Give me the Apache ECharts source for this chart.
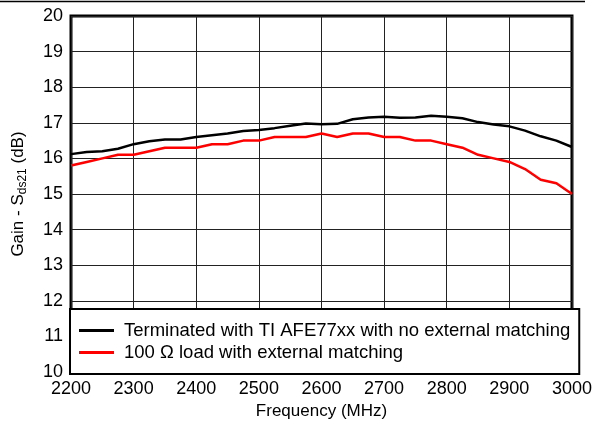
<!DOCTYPE html>
<html>
<head>
<meta charset="utf-8">
<script src="https://cdn.jsdelivr.net/npm/echarts@6/dist/echarts.min.js"></script>
<style>
html,body{margin:0;padding:0;background:#fff;}
#chart{width:595px;height:426px;}
</style>
</head>
<body>
<div id="chart"></div>
<script>
const frequencies = [2200,2225,2250,2275,2300,2325,2350,2375,2400,2425,2450,2475,2500,2525,2550,2575,2600,2625,2650,2675,2700,2725,2750,2775,2800,2825,2850,2875,2900,2925,2950,2975,3000];
const gainTerminated = [16.12,16.18,16.2,16.27,16.4,16.48,16.53,16.53,16.6,16.65,16.7,16.77,16.8,16.85,16.92,16.98,16.96,16.97,17.1,17.15,17.17,17.14,17.15,17.2,17.17,17.13,17.02,16.95,16.9,16.78,16.62,16.5,16.32];
const gain100Ohm = [15.8,15.9,16.0,16.1,16.1,16.2,16.3,16.3,16.3,16.4,16.4,16.5,16.5,16.6,16.6,16.6,16.7,16.6,16.7,16.7,16.6,16.6,16.5,16.5,16.4,16.3,16.1,16.0,15.9,15.7,15.4,15.3,15.0];
const seriesNames = ['Terminated with TI AFE77xx with no external matching', '100 \u03A9 load with external matching'];
const xAxisTitle = 'Frequency (MHz)';

const FONT = '"Liberation Sans", Arial, Helvetica, sans-serif';
const chart = echarts.init(document.getElementById('chart'), null, {renderer: 'canvas'});
const pairs = (ys) => frequencies.map((f, i) => [f, ys[i]]);

chart.setOption({
  animation: false,
  backgroundColor: '#fff',
  textStyle: {fontFamily: FONT},
  grid: {left: 71, right: 22, top: 16, bottom: 54, show: true, borderColor: '#000', borderWidth: 3, backgroundColor: 'transparent'},
  xAxis: {
    type: 'value', min: 2200, max: 3000, interval: 100,
    name: xAxisTitle, nameLocation: 'middle', nameGap: 31,
    nameTextStyle: {fontFamily: FONT, fontSize: 17, color: '#000'},
    axisLine: {show: false}, axisTick: {show: false},
    axisLabel: {fontFamily: FONT, fontSize: 18, color: '#000', margin: 8, formatter: (v) => String(v)},
    splitLine: {show: true, lineStyle: {color: '#222', width: 1}}
  },
  yAxis: {
    type: 'value', min: 10, max: 20, interval: 1,
    name: '{n|Gain - S}{s|ds21}{n| (dB)}', nameLocation: 'middle', nameGap: 42, nameRotate: 90,
    nameTextStyle: {
      fontFamily: FONT, color: '#000',
      rich: {
        n: {fontFamily: FONT, fontSize: 17, color: '#000', lineHeight: 22, verticalAlign: 'middle'},
        s: {fontFamily: FONT, fontSize: 12, color: '#000', lineHeight: 22, verticalAlign: 'bottom'}
      }
    },
    axisLine: {show: false}, axisTick: {show: false},
    axisLabel: {fontFamily: FONT, fontSize: 18, color: '#000', margin: 8},
    splitLine: {show: true, lineStyle: {color: '#222', width: 1}}
  },
  legend: {
    orient: 'vertical', left: 70, top: 309,
    backgroundColor: '#fff', borderColor: '#000', borderWidth: 2, borderRadius: 0,
    padding: [12, 9, 12, 9],
    itemGap: 3, itemWidth: 35, itemHeight: 3,
    icon: 'rect',
    textStyle: {fontFamily: FONT, fontSize: 18.5, color: '#000', padding: [0, 0, 0, 5]},
    data: seriesNames
  },
  graphic: [{type: 'line', shape: {x1: 0, y1: 1.5, x2: 585, y2: 1.5}, style: {stroke: '#000', lineWidth: 1.5}, z: 100}],
  series: [
    {name: seriesNames[0], type: 'line', data: pairs(gainTerminated), symbol: 'none', smooth: false, lineStyle: {color: '#000', width: 2.5}, itemStyle: {color: '#000'}, z: 3},
    {name: seriesNames[1], type: 'line', data: pairs(gain100Ohm), symbol: 'none', smooth: false, lineStyle: {color: '#ff0000', width: 2.5}, itemStyle: {color: '#ff0000'}, z: 4}
  ]
});
</script>
</body>
</html>
